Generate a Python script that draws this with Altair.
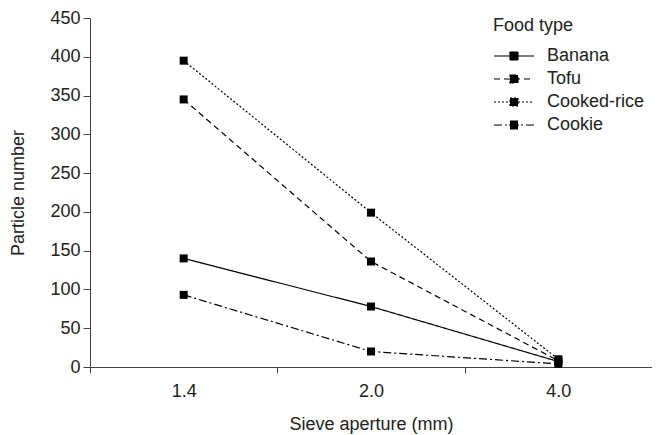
import altair as alt
import pandas as pd

apertures = ["1.4", "2.0", "4.0"]
foods = ["Banana", "Tofu", "Cooked-rice", "Cookie"]
banana = [140, 78, 7]
tofu = [345, 136, 8]
cooked_rice = [395, 199, 10]
cookie = [93, 20, 4]

series = {"Banana": banana, "Tofu": tofu, "Cooked-rice": cooked_rice, "Cookie": cookie}
rows = []
for f in foods:
    for a, v in zip(apertures, series[f]):
        rows.append({"aperture": a, "count": v, "food": f})
df = pd.DataFrame(rows)

FONT = "Liberation Sans"
AXIS_COLOR = "#444444"

x_enc = alt.X(
    "aperture:O",
    sort=apertures,
    bandPosition=0.5,
    scale=alt.Scale(type="band", paddingInner=0, paddingOuter=0),
    axis=alt.Axis(
        title="Sieve aperture (mm)",
        labelAngle=0,
        tickBand="extent",
        tickSize=6,
        labelPadding=9,
        titlePadding=15,
        domainColor=AXIS_COLOR,
        tickColor=AXIS_COLOR,
    ),
)
y_enc = alt.Y(
    "count:Q",
    scale=alt.Scale(domain=[0, 450], nice=False),
    axis=alt.Axis(
        title="Particle number",
        values=list(range(0, 451, 50)),
        grid=False,
        tickSize=7,
        labelPadding=3,
        titlePadding=22,
        domainColor=AXIS_COLOR,
        tickColor=AXIS_COLOR,
    ),
)

base = alt.Chart(df).encode(x=x_enc, y=y_enc)

lines = base.mark_line(color="black", strokeWidth=1.2).encode(
    strokeDash=alt.StrokeDash(
        "food:N",
        sort=foods,
        scale=alt.Scale(domain=foods, range=[[1, 0], [6, 4], [2, 2], [8, 3, 2, 3]]),
        legend=alt.Legend(
            title="Food type",
            orient="none",
            legendX=403,
            legendY=-1,
            symbolType="M-1,0H3M0.6,-0.4H1.4V0.4H0.6Z",
            symbolSize=400,
            symbolStrokeWidth=1.2,
            symbolStrokeColor="black",
            symbolFillColor="black",
            labelOffset=32,
            titlePadding=10,
            rowPadding=3,
        ),
    ),
)
points = base.mark_point(shape="square", filled=True, size=64, color="black", opacity=1).encode(
    detail="food:N"
)

chart = (
    alt.layer(lines, points)
    .properties(
        width=562,
        height=349,
        autosize=alt.AutoSizeParams(type="none"),
        padding={"left": 82, "top": 10, "right": 0, "bottom": 68},
    )
    .configure_view(stroke=None)
    .configure_axis(
        labelFont=FONT,
        titleFont=FONT,
        labelFontSize=18,
        titleFontSize=18,
        titleFontWeight="normal",
        labelColor="#222222",
        titleColor="#222222",
    )
    .configure_legend(
        labelFont=FONT,
        titleFont=FONT,
        labelFontSize=18,
        titleFontSize=18,
        titleFontWeight="normal",
        labelColor="#222222",
        titleColor="#222222",
    )
)

chart.save("out.html", embed_options={"renderer": "svg", "actions": False})
